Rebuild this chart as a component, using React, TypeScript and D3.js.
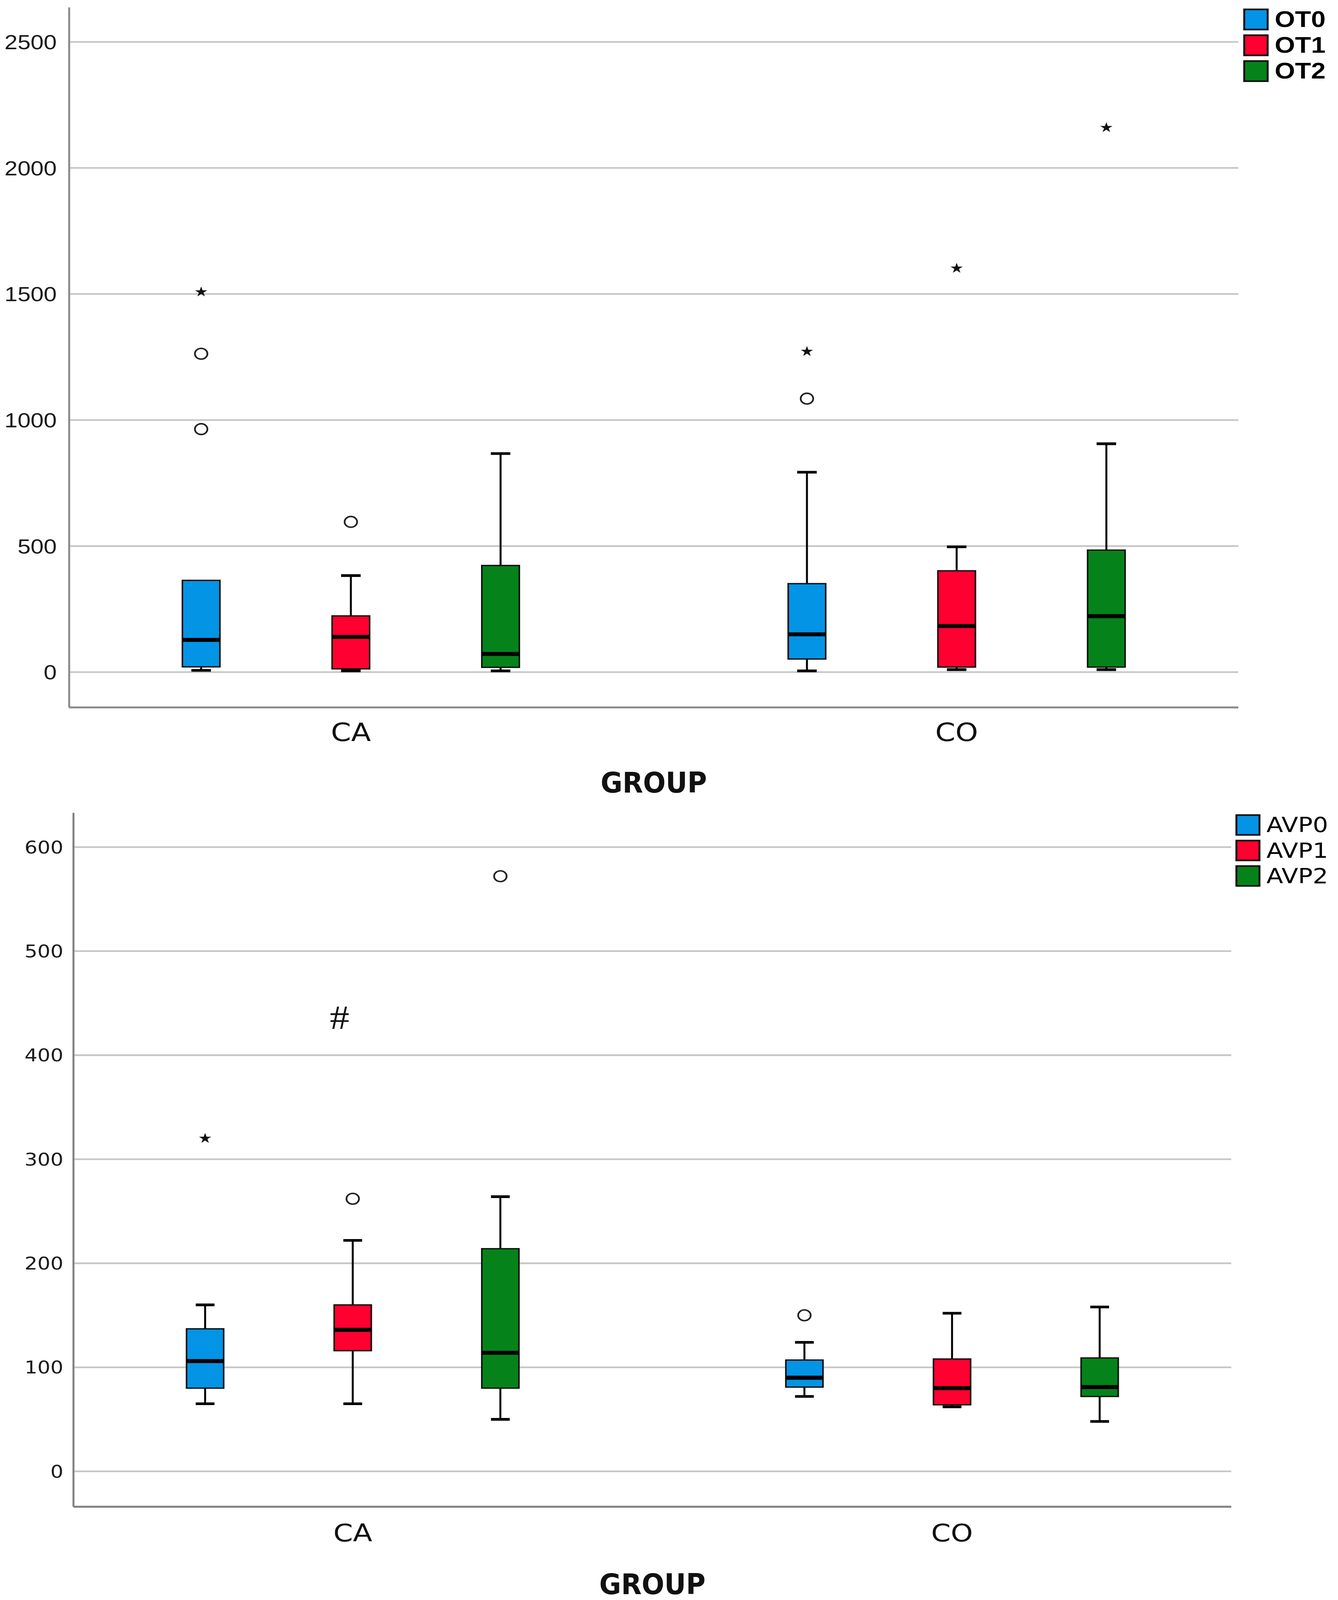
import * as d3 from "d3";

const WIDTH = 3424;
const HEIGHT = 4770;

const GROUPS = ["CA", "CO"];
const COLORS = ["#0394e6", "#ff0030", "#05831a"];

// Boxes in order CA-0, CA-1, CA-2, CO-0, CO-1, CO-2
const OT_KEYS = ["OT0", "OT1", "OT2"];
const OT_MIN = [7, 5, 5, 5, 10, 10];
const OT_Q1 = [21, 13, 19, 52, 20, 20];
const OT_MEDIAN = [128, 140, 72, 150, 183, 222];
const OT_Q3 = [364, 223, 423, 351, 402, 484];
const OT_MAX = [364, 383, 867, 793, 497, 906];
const OT_OUTLIERS = [[964, 1263], [596], [], [1085], [], []];
const OT_EXTREMES = [[1508], [], [], [1272], [1602], [2160]];
const OT_TICKS = [0, 500, 1000, 1500, 2000, 2500];

const AVP_KEYS = ["AVP0", "AVP1", "AVP2"];
const AVP_MIN = [65, 65, 50, 72, 62, 48];
const AVP_Q1 = [80, 116, 80, 81, 64, 72];
const AVP_MEDIAN = [106, 136, 114, 90, 80, 81];
const AVP_Q3 = [137, 160, 214, 107, 108, 109];
const AVP_MAX = [160, 222, 264, 124, 152, 158];
const AVP_OUTLIERS = [[], [262], [572], [150], [], []];
const AVP_EXTREMES = [[320], [], [], [], [], []];
const AVP_TICKS = [0, 100, 200, 300, 400, 500, 600];

interface Stats {
  min: number[];
  q1: number[];
  median: number[];
  q3: number[];
  max: number[];
  outliers: number[][];
  extremes: number[][];
}

interface Layout {
  x0: number;
  x1: number;
  yTop: number;
  yBottom: number;
  domain: [number, number];
  groupPadding: number;
  seriesSpan: number;
  boxW: number;
  capW: number;
  tickX: number;
  tickFont: string;
  tickSize: number;
  catBaseline: number;
  catSize: number;
  titleBaseline: number;
  legendX: number;
  legendY: number;
  legendSwatch: number;
  legendStep: number;
  legendFont: string;
  legendSize: number;
  legendWeight: string;
  axisColor: string;
  gridColor: string;
}

const starPath = d3.symbol(d3.symbolStar, 300)() ?? "";

function BoxChart({ stats, keys, ticks, layout }: { stats: Stats; keys: string[]; ticks: number[]; layout: Layout }) {
  const L = layout;
  const y = d3.scaleLinear().domain(L.domain).range([L.yBottom, L.yTop]);
  const gx = d3.scalePoint<string>().domain(GROUPS).range([L.x0, L.x1]).padding(L.groupPadding);
  const sx = d3
    .scaleBand<string>()
    .domain(keys)
    .range([-L.seriesSpan / 2, L.seriesSpan / 2])
    .paddingInner(0.75);
  const boxes = GROUPS.flatMap((g, gi) =>
    keys.map((k, ki) => {
      const i = gi * keys.length + ki;
      return {
        cx: (gx(g) ?? 0) + (sx(k) ?? 0) + sx.bandwidth() / 2,
        color: COLORS[ki],
        min: stats.min[i],
        q1: stats.q1[i],
        median: stats.median[i],
        q3: stats.q3[i],
        max: stats.max[i],
        outliers: stats.outliers[i],
        extremes: stats.extremes[i],
      };
    }),
  );
  const midX = (L.x0 + L.x1) / 2;

  return (
    <g>
      {ticks.map((t) => (
        <line key={`g${t}`} x1={L.x0} x2={L.x1} y1={y(t)} y2={y(t)} stroke={L.gridColor} strokeWidth={5} />
      ))}
      <line x1={L.x0} x2={L.x0} y1={L.yTop} y2={L.yBottom} stroke={L.axisColor} strokeWidth={5} />
      <line x1={L.x0} x2={L.x1} y1={L.yBottom} y2={L.yBottom} stroke={L.axisColor} strokeWidth={6} />
      {ticks.map((t) => (
        <text
          key={`t${t}`}
          x={L.tickX}
          y={y(t)}
          dy="0.36em"
          textAnchor="end"
          fontFamily={L.tickFont}
          fontSize={L.tickSize}
          fill="#1a1a1a"
        >
          {t}
        </text>
      ))}
      {boxes.map((b, i) => (
        <g key={`b${i}`}>
          <line x1={b.cx} x2={b.cx} y1={y(b.max)} y2={y(b.q3)} stroke="#000" strokeWidth={5} />
          <line x1={b.cx} x2={b.cx} y1={y(b.q1)} y2={y(b.min)} stroke="#000" strokeWidth={5} />
          {b.max > b.q3 && (
            <line x1={b.cx - L.capW / 2} x2={b.cx + L.capW / 2} y1={y(b.max)} y2={y(b.max)} stroke="#000" strokeWidth={8} />
          )}
          <line x1={b.cx - L.capW / 2} x2={b.cx + L.capW / 2} y1={y(b.min)} y2={y(b.min)} stroke="#000" strokeWidth={8} />
          <rect
            x={b.cx - L.boxW / 2}
            y={y(b.q3)}
            width={L.boxW}
            height={y(b.q1) - y(b.q3)}
            fill={b.color}
            stroke="#111"
            strokeWidth={4}
          />
          <line
            x1={b.cx - L.boxW / 2}
            x2={b.cx + L.boxW / 2}
            y1={y(b.median)}
            y2={y(b.median)}
            stroke="#000"
            strokeWidth={12}
          />
          {b.outliers.map((v, j) => (
            <circle key={`o${j}`} cx={b.cx} cy={y(v)} r={16} fill="#fff" stroke="#222" strokeWidth={4.5} />
          ))}
          {b.extremes.map((v, j) => (
            <path key={`e${j}`} d={starPath} transform={`translate(${b.cx},${y(v)})`} fill="#111" />
          ))}
        </g>
      ))}
      {GROUPS.map((g) => (
        <text
          key={g}
          x={gx(g)}
          y={L.catBaseline}
          textAnchor="middle"
          fontFamily="DejaVu Sans"
          fontSize={L.catSize}
          fill="#111"
        >
          {g}
        </text>
      ))}
      <text
        x={midX}
        y={L.titleBaseline}
        textAnchor="middle"
        fontFamily="'DejaVu Sans Condensed', 'DejaVu Sans'"
        fontWeight="bold"
        fontSize={84}
        textLength={272}
        lengthAdjust="spacingAndGlyphs"
        fill="#111"
      >
        GROUP
      </text>
      {keys.map((k, i) => (
        <g key={k} transform={`translate(${L.legendX},${L.legendY + i * L.legendStep})`}>
          <rect width={L.legendSwatch} height={L.legendSwatch} fill={COLORS[i]} stroke="#111" strokeWidth={5} />
          <text
            x={L.legendSwatch + 18}
            y={L.legendSwatch - 8}
            fontFamily={L.legendFont}
            fontWeight={L.legendWeight}
            fontSize={L.legendSize}
            fill="#000"
          >
            {k}
          </text>
        </g>
      ))}
    </g>
  );
}

const TOP_LAYOUT: Layout = {
  x0: 177,
  x1: 3169,
  yTop: 22,
  yBottom: 2109,
  domain: [-140, 2637],
  groupPadding: 0.465,
  seriesSpan: 862,
  boxW: 96,
  capW: 50,
  tickX: 145,
  tickFont: "'Liberation Sans', Arial",
  tickSize: 60,
  catBaseline: 2209,
  catSize: 74,
  titleBaseline: 2363,
  legendX: 3184,
  legendY: 28,
  legendSwatch: 60,
  legendStep: 77,
  legendFont: "'Liberation Sans', Arial",
  legendSize: 67,
  legendWeight: "bold",
  axisColor: "#8a8a8a",
  gridColor: "#c6c6c6",
};

const BOTTOM_LAYOUT: Layout = {
  x0: 188,
  x1: 3151,
  yTop: 2423,
  yBottom: 4492,
  domain: [-34, 633],
  groupPadding: 0.466,
  seriesSpan: 850,
  boxW: 95,
  capW: 48,
  tickX: 162,
  tickFont: "'DejaVu Sans'",
  tickSize: 52,
  catBaseline: 4595,
  catSize: 72,
  titleBaseline: 4752,
  legendX: 3164,
  legendY: 2430,
  legendSwatch: 59,
  legendStep: 76,
  legendFont: "'DejaVu Sans'",
  legendSize: 62,
  legendWeight: "normal",
  axisColor: "#808080",
  gridColor: "#c6c6c6",
};

export default function App() {
  // Fit the whole figure into the viewport, whatever its actual height.
  return (
    <div style={{ position: "fixed", left: 0, top: 0, width: "100vw", height: "100vh", overflow: "hidden", background: "#fff" }}>
      <svg
        width="100%"
        height="100%"
        viewBox={`0 0 ${WIDTH} ${HEIGHT}`}
        preserveAspectRatio="none"
        style={{ display: "block" }}
      >
        <rect width={WIDTH} height={HEIGHT} fill="#fff" />
        <BoxChart
          stats={{
            min: OT_MIN,
            q1: OT_Q1,
            median: OT_MEDIAN,
            q3: OT_Q3,
            max: OT_MAX,
            outliers: OT_OUTLIERS,
            extremes: OT_EXTREMES,
          }}
          keys={OT_KEYS}
          ticks={OT_TICKS}
          layout={TOP_LAYOUT}
        />
        <BoxChart
          stats={{
            min: AVP_MIN,
            q1: AVP_Q1,
            median: AVP_MEDIAN,
            q3: AVP_Q3,
            max: AVP_MAX,
            outliers: AVP_OUTLIERS,
            extremes: AVP_EXTREMES,
          }}
          keys={AVP_KEYS}
          ticks={AVP_TICKS}
          layout={BOTTOM_LAYOUT}
        />
        <text x={869} y={3067} textAnchor="middle" fontFamily="'Liberation Serif', 'DejaVu Serif', serif" fontSize={100} fill="#111">
          #
        </text>
      </svg>
    </div>
  );
}
